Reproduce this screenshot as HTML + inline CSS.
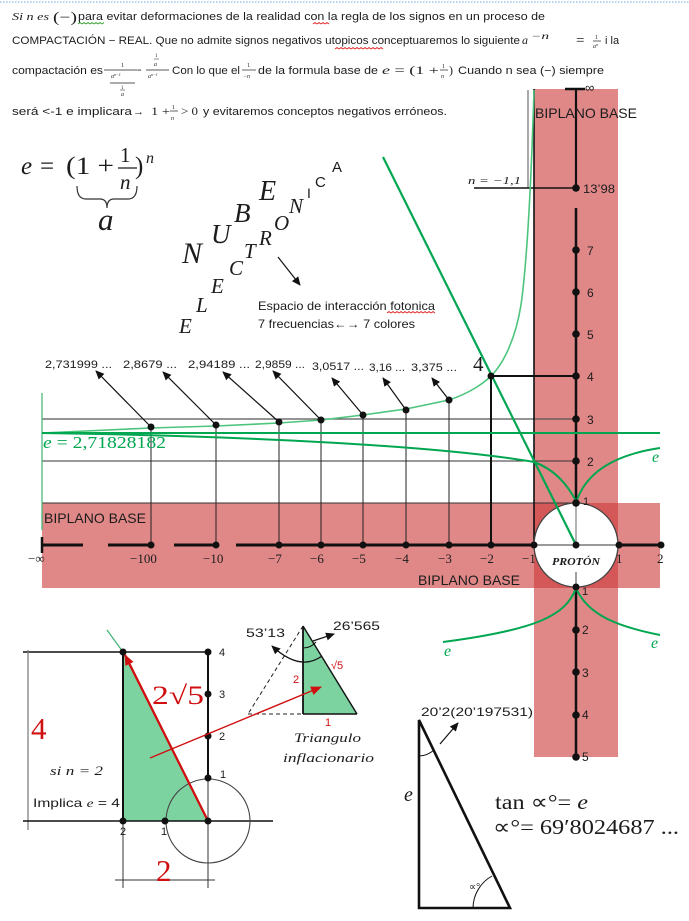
<!DOCTYPE html>
<html><head><meta charset="utf-8">
<style>
html,body{margin:0;padding:0;background:#fff;}
svg{display:block;}
.s{font-family:"Liberation Sans",sans-serif;fill:#1c1c1c;}
.m{font-family:"Liberation Serif",serif;fill:#1c1c1c;}
.i{font-style:italic;}
.g{fill:#00a650;}
.r{fill:#d01010;}
</style></head><body>
<svg width="689" height="921" viewBox="0 0 689 921" xmlns="http://www.w3.org/2000/svg">
<defs>
<marker id="ab" markerWidth="9" markerHeight="8" refX="8" refY="4" orient="auto" markerUnits="userSpaceOnUse"><path d="M0,0 L9,4 L0,8 z" fill="#111"/></marker>
<marker id="abs" markerWidth="9" markerHeight="8" refX="1" refY="4" orient="auto" markerUnits="userSpaceOnUse"><path d="M9,0 L0,4 L9,8 z" fill="#111"/></marker>
<marker id="ar" markerWidth="11" markerHeight="9" refX="10" refY="4.5" orient="auto" markerUnits="userSpaceOnUse"><path d="M0,0 L11,4.5 L0,9 z" fill="#d01010"/></marker>
</defs>
<rect width="689" height="921" fill="#fff"/>

<!-- top dotted line -->
<line x1="0" y1="2" x2="689" y2="2" stroke="#6fa8dc" stroke-width="1" stroke-dasharray="1.5,1.5"/>

<!-- ===== Top paragraph ===== -->
<text class="m i" x="12" y="20" font-size="11" textLength="37" lengthAdjust="spacingAndGlyphs">Si n es</text>
<text class="m" x="53" y="22" font-size="15" textLength="24" lengthAdjust="spacingAndGlyphs">(−)</text>
<text class="s" x="78" y="20" font-size="11" textLength="467" lengthAdjust="spacingAndGlyphs">para evitar deformaciones de la realidad con la regla de los signos en un proceso de</text>
<path d="M78,24 l2,-1.5 l2,1.5 l2,-1.5 l2,1.5 l2,-1.5 l2,1.5 l2,-1.5 l2,1.5 l2,-1.5 l2,1.5 l2,-1.5 l2,1.5 l2,-1.5" fill="none" stroke="#2a9d2a" stroke-width="0.8"/>
<path d="M313,24 l2,-1.5 l2,1.5 l2,-1.5 l2,1.5 l2,-1.5 l2,1.5 l2,-1.5 l2,1.5" fill="none" stroke="#e02020" stroke-width="0.8"/>

<text class="s" x="12" y="44" font-size="11" textLength="508" lengthAdjust="spacingAndGlyphs">COMPACTACIÓN − REAL. Que no admite signos negativos utopicos conceptuaremos lo siguiente</text>
<path d="M335,49 l2,-1.5 l2,1.5 l2,-1.5 l2,1.5 l2,-1.5 l2,1.5 l2,-1.5 l2,1.5 l2,-1.5 l2,1.5 l2,-1.5 l2,1.5 l2,-1.5 l2,1.5 l2,-1.5 l2,1.5 l2,-1.5 l2,1.5 l2,-1.5 l2,1.5 l2,-1.5 l2,1.5 l2,-1.5 l2,1.5" fill="none" stroke="#e02020" stroke-width="0.8"/>
<text class="m i" x="522" y="44" font-size="12">a</text>
<text class="m i" x="531" y="39" font-size="9" textLength="18" lengthAdjust="spacingAndGlyphs">−n</text>
<text class="m" x="576" y="45" font-size="15">=</text>
<text class="m" x="595" y="39" font-size="6">1</text>
<line x1="593" y1="41" x2="601" y2="41" stroke="#222" stroke-width="0.7"/>
<text class="m i" x="593" y="48" font-size="6">a<tspan font-size="4" dy="-2">n</tspan></text>
<text class="s" x="605" y="44" font-size="11">i la</text>

<text class="s" x="12" y="74" font-size="11" textLength="91" lengthAdjust="spacingAndGlyphs">compactación es</text>
<text class="m" x="121" y="67" font-size="6">1</text>
<line x1="104" y1="70" x2="137" y2="70" stroke="#222" stroke-width="0.7"/>
<text class="m i" x="111" y="78" font-size="6">a<tspan font-size="4" dy="-2">n−1</tspan></text>
<line x1="110" y1="83" x2="135" y2="83" stroke="#222" stroke-width="0.7"/>
<text class="m" x="121" y="89" font-size="5">1</text>
<line x1="120" y1="90" x2="125" y2="90" stroke="#222" stroke-width="0.5"/>
<text class="m i" x="121" y="96" font-size="6">a</text>
<text class="m" x="137" y="73" font-size="8">=</text>
<text class="m" x="155" y="57" font-size="5">1</text>
<line x1="154" y1="59" x2="159" y2="59" stroke="#222" stroke-width="0.5"/>
<text class="m i" x="154" y="66" font-size="6">a</text>
<line x1="146" y1="70" x2="169" y2="70" stroke="#222" stroke-width="0.7"/>
<text class="m i" x="148" y="78" font-size="6">a<tspan font-size="4" dy="-2">n−1</tspan></text>
<text class="s" x="172" y="74" font-size="11" textLength="68" lengthAdjust="spacingAndGlyphs">Con lo que el</text>
<text class="m" x="247" y="67" font-size="6">1</text>
<line x1="242" y1="70" x2="256" y2="70" stroke="#222" stroke-width="0.7"/>
<text class="m i" x="243" y="78" font-size="6">−n</text>
<text class="s" x="258" y="74" font-size="11" textLength="120" lengthAdjust="spacingAndGlyphs">de la formula base de</text>
<text class="m" x="382" y="74" font-size="12" textLength="57" lengthAdjust="spacingAndGlyphs"><tspan font-style="italic">e</tspan> = (1 +</text>
<text class="m" x="442" y="68" font-size="6">1</text>
<line x1="440" y1="70" x2="448" y2="70" stroke="#222" stroke-width="0.7"/>
<text class="m i" x="441" y="78" font-size="6">n</text>
<text class="m" x="449" y="74" font-size="12">)</text>
<text class="s" x="458" y="74" font-size="11" textLength="146" lengthAdjust="spacingAndGlyphs">Cuando n sea (−) siempre</text>

<text class="s" x="12" y="115" font-size="11" textLength="120" lengthAdjust="spacingAndGlyphs">será &lt;-1 e implicara</text>
<text class="s" x="133" y="115" font-size="11">→</text>
<text class="m" x="151" y="115" font-size="12" textLength="19" lengthAdjust="spacingAndGlyphs">1 +</text>
<text class="m" x="172" y="109" font-size="6">1</text>
<line x1="170" y1="111" x2="178" y2="111" stroke="#222" stroke-width="0.7"/>
<text class="m i" x="171" y="120" font-size="6">n</text>
<text class="m" x="181" y="115" font-size="12" textLength="17" lengthAdjust="spacingAndGlyphs">&gt; 0</text>
<text class="s" x="203" y="115" font-size="11" textLength="244" lengthAdjust="spacingAndGlyphs">y evitaremos conceptos negativos erróneos.</text>

<!-- ===== e formula ===== -->
<text class="m i" x="21" y="174" font-size="25">e</text>
<text class="m" x="40" y="174" font-size="25">=</text>
<text class="m" x="66" y="174" font-size="25" textLength="48" lengthAdjust="spacingAndGlyphs">(1 +</text>
<text class="m" x="120" y="162" font-size="21">1</text>
<line x1="118" y1="168" x2="137" y2="168" stroke="#1c1c1c" stroke-width="1.3"/>
<text class="m i" x="120" y="189" font-size="21">n</text>
<text class="m" x="135" y="174" font-size="25">)</text>
<text class="m i" x="146" y="163" font-size="16">n</text>
<path d="M77,186 Q77,199 86,199 L100,199 Q107,199 107,208 Q107,199 114,199 L128,199 Q137,199 137,186" fill="none" stroke="#333" stroke-width="1.2"/>
<text class="m i" x="98" y="230" font-size="31">a</text>

<!-- ===== NUBE ELECTRONICA ===== -->
<text class="m i" x="182" y="263" font-size="30">N</text>
<text class="m i" x="211" y="243" font-size="27">U</text>
<text class="m i" x="234" y="222" font-size="27">B</text>
<text class="m i" x="259" y="200" font-size="28">E</text>
<text class="m i" x="179" y="333" font-size="21">E</text>
<text class="m i" x="196" y="312" font-size="21">L</text>
<text class="m i" x="211" y="293" font-size="21">E</text>
<text class="m i" x="229" y="275" font-size="21">C</text>
<text class="m i" x="244" y="258" font-size="21">T</text>
<text class="m i" x="259" y="245" font-size="21">R</text>
<text class="m i" x="274" y="230" font-size="21">O</text>
<text class="m i" x="289" y="213" font-size="21">N</text>
<text class="s" x="307" y="198" font-size="14">I</text>
<text class="s" x="315" y="187" font-size="15">C</text>
<text class="s" x="332" y="172" font-size="15">A</text>
<line x1="278" y1="257" x2="300" y2="285" stroke="#111" stroke-width="1.2" marker-end="url(#ab)"/>
<text class="s" x="258" y="310" font-size="12" textLength="177" lengthAdjust="spacingAndGlyphs">Espacio de interacción fotonica</text>
<path d="M387,313 l2,-1.5 l2,1.5 l2,-1.5 l2,1.5 l2,-1.5 l2,1.5 l2,-1.5 l2,1.5 l2,-1.5 l2,1.5 l2,-1.5 l2,1.5 l2,-1.5 l2,1.5 l2,-1.5 l2,1.5 l2,-1.5 l2,1.5 l2,-1.5 l2,1.5 l2,-1.5 l2,1.5 l2,-1.5 l2,1.5" fill="none" stroke="#e02020" stroke-width="0.8"/>
<text class="s" x="258" y="328" font-size="12" textLength="157" lengthAdjust="spacingAndGlyphs">7 frecuencias←→ 7 colores</text>

<!-- ===== pink bands ===== -->
<rect x="534" y="89" width="84" height="668" fill="rgb(203,57,57)" fill-opacity="0.6"/>
<rect x="42" y="503" width="618" height="85" fill="rgb(203,57,57)" fill-opacity="0.6"/>

<!-- grid lines -->
<line x1="42" y1="419" x2="576" y2="419" stroke="#555" stroke-width="1.2"/>
<line x1="42" y1="461" x2="576" y2="461" stroke="#333" stroke-width="1"/>
<line x1="42" y1="503" x2="576" y2="503" stroke="#333" stroke-width="1"/>
<line x1="42" y1="393" x2="42" y2="530" stroke="#3cb371" stroke-width="1.2"/>
<line x1="534" y1="89" x2="534" y2="545" stroke="#111" stroke-width="1.6"/>
<line x1="528" y1="90" x2="528" y2="188" stroke="#555" stroke-width="1"/>

<!-- verticals to dots -->
<g stroke="#222" stroke-width="1">
<line x1="151" y1="427" x2="151" y2="545"/>
<line x1="216" y1="425" x2="216" y2="545"/>
<line x1="279" y1="422" x2="279" y2="545"/>
<line x1="321" y1="420" x2="321" y2="545"/>
<line x1="363" y1="415" x2="363" y2="545"/>
<line x1="406" y1="410" x2="406" y2="545"/>
<line x1="449" y1="400" x2="449" y2="545"/>
</g>
<line x1="491" y1="376" x2="491" y2="545" stroke="#111" stroke-width="2"/>
<line x1="491" y1="376" x2="576" y2="376" stroke="#111" stroke-width="2"/>
<line x1="474" y1="188" x2="576" y2="188" stroke="#111" stroke-width="1.5"/>

<!-- arrows to values -->
<g stroke="#111" stroke-width="1.2">
<line x1="151" y1="427" x2="96" y2="371" marker-end="url(#ab)"/>
<line x1="216" y1="425" x2="163" y2="372" marker-end="url(#ab)"/>
<line x1="279" y1="422" x2="223" y2="372" marker-end="url(#ab)"/>
<line x1="321" y1="420" x2="273" y2="371" marker-end="url(#ab)"/>
<line x1="363" y1="415" x2="332" y2="378" marker-end="url(#ab)"/>
<line x1="406" y1="410" x2="383" y2="378" marker-end="url(#ab)"/>
<line x1="449" y1="400" x2="432" y2="378" marker-end="url(#ab)"/>
</g>
<g class="s" font-size="11">
<text x="45" y="368" textLength="67" lengthAdjust="spacingAndGlyphs">2,731999 ...</text>
<text x="123" y="368" textLength="54" lengthAdjust="spacingAndGlyphs">2,8679 ...</text>
<text x="188" y="368" textLength="62" lengthAdjust="spacingAndGlyphs">2,94189 ...</text>
<text x="255" y="368" textLength="50" lengthAdjust="spacingAndGlyphs">2,9859 ...</text>
<text x="312" y="370" textLength="52" lengthAdjust="spacingAndGlyphs">3,0517 ...</text>
<text x="369" y="371" textLength="36" lengthAdjust="spacingAndGlyphs">3,16 ...</text>
<text x="411" y="371" textLength="46" lengthAdjust="spacingAndGlyphs">3,375 ...</text>
</g>
<text class="m" x="473" y="371" font-size="21">4</text>

<!-- vertical axis -->
<line x1="565" y1="89" x2="585" y2="89" stroke="#111" stroke-width="2.5"/>
<line x1="576" y1="89" x2="576" y2="188" stroke="#111" stroke-width="2.2"/>
<line x1="576" y1="208" x2="576" y2="545" stroke="#111" stroke-width="2.5"/>
<text class="s" x="585" y="92" font-size="13">∞</text>
<text class="s" x="535" y="118" font-size="14" textLength="102" lengthAdjust="spacingAndGlyphs">BIPLANO BASE</text>
<text class="m i" x="468" y="184" font-size="11" textLength="53" lengthAdjust="spacingAndGlyphs">n = −1,1</text>
<text class="s" x="583" y="193" font-size="12" textLength="32" lengthAdjust="spacingAndGlyphs">13’98</text>
<g class="s" font-size="12">
<text x="587" y="255">7</text>
<text x="587" y="297">6</text>
<text x="587" y="339">5</text>
<text x="587" y="381">4</text>
<text x="587" y="424">3</text>
<text x="587" y="466">2</text>
</g>

<!-- horizontal axis -->
<g stroke="#111" stroke-width="3">
<line x1="42" y1="545" x2="83" y2="545"/>
<line x1="108" y1="545" x2="151" y2="545"/>
<line x1="174" y1="545" x2="216" y2="545"/>
<line x1="236" y1="545" x2="534" y2="545"/>
<line x1="618" y1="545" x2="661" y2="545"/>
</g>
<line x1="42" y1="537" x2="42" y2="553" stroke="#111" stroke-width="2.5"/>
<text class="s" x="44" y="523" font-size="14" textLength="102" lengthAdjust="spacingAndGlyphs">BIPLANO BASE</text>
<text class="s" x="418" y="585" font-size="14" textLength="102" lengthAdjust="spacingAndGlyphs">BIPLANO BASE</text>
<g class="m" font-size="13">
<text x="28" y="563">−∞</text>
<text x="130" y="563">−100</text>
<text x="203" y="563">−10</text>
<text x="268" y="563">−7</text>
<text x="310" y="563">−6</text>
<text x="352" y="563">−5</text>
<text x="395" y="563">−4</text>
<text x="438" y="563">−3</text>
<text x="480" y="563">−2</text>
<text x="522" y="563">−1</text>
<text x="616" y="563">1</text>
<text x="657" y="563">2</text>
</g>

<!-- proton circle -->
<circle cx="576" cy="545" r="42" fill="#fff" stroke="#444" stroke-width="1.3"/>
<line x1="534" y1="545" x2="618" y2="545" stroke="#333" stroke-width="1"/>
<line x1="576" y1="503" x2="576" y2="545" stroke="#666" stroke-width="1"/>
<line x1="576" y1="572" x2="576" y2="587" stroke="#444" stroke-width="1"/>
<text class="m i" x="552" y="565" font-size="10" font-weight="bold" fill="#333" textLength="48" lengthAdjust="spacingAndGlyphs">PROTÓN</text>
<text class="s" x="583" y="505" font-size="11">1</text>
<text class="s" x="582" y="595" font-size="11">1</text>

<!-- lower vertical axis -->
<line x1="576" y1="587" x2="576" y2="757" stroke="#111" stroke-width="2.5"/>
<g class="s" font-size="12">
<text x="582" y="634">2</text>
<text x="582" y="677">3</text>
<text x="582" y="719">4</text>
<text x="582" y="761">5</text>
</g>

<!-- green curves -->
<path d="M42,433 L151,428 L216,426 L279,423 L321,420 L363,415 L406,409 C425,405 440,402 449,400 C470,393 484,383 491,376 C505,362 516,336 521,305 C527,262 531,190 534,90" fill="none" stroke="#4cc47c" stroke-width="1.6"/>
<line x1="42" y1="433" x2="660" y2="433" stroke="#00a650" stroke-width="2"/>
<path d="M42,433 C250,436 440,446 534,462 C556,470 568,486 576,501" fill="none" stroke="#00a650" stroke-width="2"/>
<path d="M577,500 Q592,458 660,448" fill="none" stroke="#00a650" stroke-width="2"/>
<line x1="383" y1="157" x2="576" y2="545" stroke="#00a650" stroke-width="2.2"/>
<path d="M576,588 C566,616 535,630 443,642" fill="none" stroke="#00a650" stroke-width="2"/>
<path d="M576,588 C588,616 620,627 660,635" fill="none" stroke="#00a650" stroke-width="2"/>
<text class="m g" x="43" y="448" font-size="17" textLength="123" lengthAdjust="spacingAndGlyphs"><tspan font-style="italic">e</tspan> = 2,71828182</text>
<text class="m i g" x="652" y="462" font-size="16">e</text>
<text class="m i g" x="444" y="656" font-size="16">e</text>
<text class="m i g" x="651" y="648" font-size="16">e</text>

<!-- dots -->
<g fill="#111">
<circle cx="151" cy="427" r="3.5"/><circle cx="216" cy="425" r="3.5"/><circle cx="279" cy="422" r="3.5"/>
<circle cx="321" cy="420" r="3.5"/><circle cx="363" cy="415" r="3.5"/><circle cx="406" cy="410" r="3.5"/>
<circle cx="449" cy="400" r="3.5"/><circle cx="491" cy="376" r="3.5"/>
<circle cx="151" cy="545" r="3.5"/><circle cx="216" cy="545" r="3.5"/><circle cx="279" cy="545" r="3.5"/>
<circle cx="321" cy="545" r="3.5"/><circle cx="363" cy="545" r="3.5"/><circle cx="406" cy="545" r="3.5"/>
<circle cx="449" cy="545" r="3.5"/><circle cx="491" cy="545" r="3.5"/><circle cx="534" cy="545" r="3.5"/>
<circle cx="576" cy="545" r="3.5"/><circle cx="619" cy="545" r="3.5"/><circle cx="661" cy="545" r="3.5"/>
<circle cx="576" cy="188" r="3.8"/><circle cx="576" cy="250" r="3.8"/><circle cx="576" cy="292" r="3.8"/>
<circle cx="576" cy="334" r="3.8"/><circle cx="576" cy="376" r="3.8"/><circle cx="576" cy="419" r="3.8"/>
<circle cx="576" cy="461" r="3.8"/><circle cx="576" cy="503" r="3.8"/>
<circle cx="576" cy="587" r="3.5"/><circle cx="576" cy="630" r="3.8"/><circle cx="576" cy="672" r="3.8"/>
<circle cx="576" cy="715" r="3.8"/><circle cx="576" cy="757" r="3.8"/>
</g>

<!-- ===== Lower-left figure ===== -->
<polygon points="123,652 123,821 208,821" fill="#7dd3a0"/>
<line x1="23" y1="652" x2="208" y2="652" stroke="#111" stroke-width="1.6"/>
<line x1="28" y1="650" x2="28" y2="830" stroke="#777" stroke-width="1.2"/>
<line x1="23" y1="821" x2="273" y2="821" stroke="#111" stroke-width="1.4"/>
<line x1="123" y1="652" x2="123" y2="821" stroke="#111" stroke-width="2"/>
<line x1="123" y1="821" x2="123" y2="888" stroke="#333" stroke-width="1"/>
<line x1="208" y1="652" x2="208" y2="778" stroke="#111" stroke-width="2"/>
<line x1="208" y1="778" x2="208" y2="888" stroke="#333" stroke-width="1"/>
<line x1="115" y1="880" x2="215" y2="880" stroke="#333" stroke-width="1"/>
<circle cx="208" cy="821" r="42" fill="none" stroke="#444" stroke-width="1.1"/>
<line x1="107" y1="630" x2="123" y2="652" stroke="#3cb371" stroke-width="1.2"/>
<line x1="208" y1="821" x2="125" y2="655" stroke="#d01010" stroke-width="2.3" marker-end="url(#ar)"/>
<g fill="#111">
<circle cx="123" cy="652" r="3.5"/><circle cx="208" cy="652" r="3.5"/><circle cx="208" cy="694" r="3.5"/>
<circle cx="208" cy="736" r="3.5"/><circle cx="208" cy="778" r="3.5"/><circle cx="208" cy="821" r="3.5"/>
<circle cx="123" cy="821" r="3.5"/><circle cx="165" cy="821" r="3.5"/>
</g>
<g class="s" font-size="11">
<text x="219" y="656">4</text>
<text x="219" y="698">3</text>
<text x="219" y="740">2</text>
<text x="220" y="778">1</text>
<text x="120" y="835">2</text>
<text x="161" y="835">1</text>
</g>
<text class="m r" x="152" y="704" font-size="26" textLength="52" lengthAdjust="spacingAndGlyphs">2√5</text>
<text class="m r" x="31" y="739" font-size="31">4</text>
<text class="m r" x="156" y="881" font-size="31">2</text>
<text class="m i" x="50" y="775" font-size="13" textLength="53" lengthAdjust="spacingAndGlyphs">si n = 2</text>
<text class="s" x="33" y="807" font-size="12" textLength="87" lengthAdjust="spacingAndGlyphs">Implica <tspan font-family="Liberation Serif" font-style="italic">e</tspan> = 4</text>

<!-- small triangle -->
<polygon points="303,626 303,714 357,714" fill="#7dd3a0"/>
<line x1="303" y1="626" x2="303" y2="714" stroke="#111" stroke-width="1.8"/>
<line x1="303" y1="714" x2="357" y2="714" stroke="#111" stroke-width="1.6"/>
<line x1="303" y1="626" x2="357" y2="714" stroke="#111" stroke-width="1.4"/>
<line x1="303" y1="626" x2="248" y2="714" stroke="#222" stroke-width="1" stroke-dasharray="4,3"/>
<line x1="248" y1="714" x2="303" y2="714" stroke="#222" stroke-width="1" stroke-dasharray="4,3"/>
<path d="M272,646 Q300,672 322,656" fill="none" stroke="#111" stroke-width="1.2" marker-start="url(#abs)"/>
<path d="M303,648 Q311,648 316,642" fill="none" stroke="#111" stroke-width="1"/>
<line x1="313" y1="641" x2="334" y2="634" stroke="#111" stroke-width="1.2" marker-end="url(#ab)"/>
<text class="s" x="246" y="637" font-size="12" textLength="39" lengthAdjust="spacingAndGlyphs">53’13</text>
<text class="s" x="333" y="630" font-size="12" textLength="47" lengthAdjust="spacingAndGlyphs">26’565</text>
<text class="s r" x="331" y="669" font-size="11">√5</text>
<text class="s r" x="293" y="683" font-size="11">2</text>
<text class="s r" x="325" y="726" font-size="11">1</text>
<text class="m i" x="294" y="742" font-size="13" textLength="67" lengthAdjust="spacingAndGlyphs">Triangulo</text>
<text class="m i" x="283" y="762" font-size="13" textLength="91" lengthAdjust="spacingAndGlyphs">inflacionario</text>

<!-- red arrow into small triangle (drawn on top) -->
<line x1="150" y1="758" x2="321" y2="687" stroke="#d01010" stroke-width="1.4" marker-end="url(#ar)"/>

<!-- ===== Lower-right triangle ===== -->
<polygon points="419,720 419,908 510,908" fill="none" stroke="#111" stroke-width="2.6" stroke-linejoin="miter"/>
<path d="M419,756 Q427,756 434,750" fill="none" stroke="#111" stroke-width="1"/>
<path d="M473,908 A37,37 0 0 1 492,876" fill="none" stroke="#111" stroke-width="1"/>
<text class="m" x="469" y="890" font-size="10">∝°</text>
<line x1="440" y1="744" x2="458" y2="723" stroke="#111" stroke-width="1.2" marker-end="url(#ab)"/>
<text class="s" x="421" y="716" font-size="12" textLength="112" lengthAdjust="spacingAndGlyphs">20’2(20’197531)</text>
<text class="m i" x="404" y="801" font-size="20">e</text>
<text class="m" x="495" y="809" font-size="21" textLength="93" lengthAdjust="spacingAndGlyphs">tan ∝°= <tspan font-style="italic">e</tspan></text>
<text class="m" x="493" y="834" font-size="21" textLength="186" lengthAdjust="spacingAndGlyphs">∝°= 69′8024687 ...</text>
</svg>
</body></html>
